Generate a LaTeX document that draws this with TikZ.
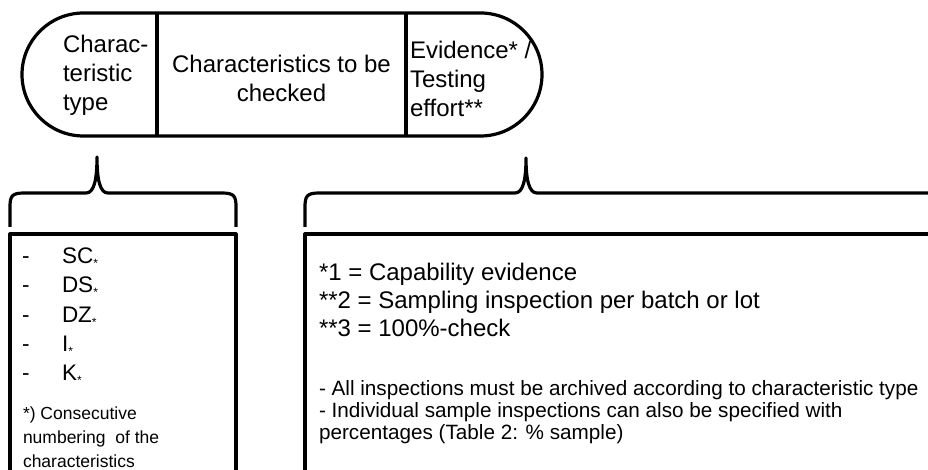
\documentclass[tikz,border=0pt]{standalone}
\usepackage{fontspec}
\setmainfont{Liberation Sans}
\begin{document}
\begin{tikzpicture}[x=1pt,y=-1pt,
  thick line/.style={line width=3.2pt, line join=round, line cap=butt},
  txt/.style={inner sep=0pt, outer sep=0pt, align=left},
  big/.style={font=\fontsize{24}{29}\selectfont},
  rowtxt/.style={inner sep=0pt, outer sep=0pt, anchor=base west, font=\fontsize{22.5}{29}\selectfont}]
\newcommand{\smallstar}{\raisebox{-4pt}{\fontsize{12}{12}\selectfont *}}
\useasboundingbox (0,0) rectangle (928,470);
\clip (0,0) rectangle (928,470);
% pill
\draw[thick line] (83.5,13) -- (480.5,13)
  arc[start angle=-90, end angle=90, radius=61.5] -- (83.5,136)
  arc[start angle=90, end angle=270, radius=61.5] -- cycle;
\draw[thick line] (157,13) -- (157,136);
\draw[thick line] (406,13) -- (406,136);
\node[txt, big, anchor=west] (ctype) at (63,75) {Charac-\\teristic\\type};
\node[txt, big, align=center] (cchk) at (281.5,78) {Characteristics to be\\checked};
\node[txt, big, anchor=west] (evid) at (410,79) {Evidence* /\\Testing\\effort**};
% left brace
\draw[thick line] (10,227) -- (10,207) .. controls (10,196) and (12,193) .. (24,193)
  -- (86,193) .. controls (94,193) and (97,180) .. (97,157)
  .. controls (97,180) and (100,193) .. (108,193) -- (222,193)
  .. controls (234,193) and (236,196) .. (236,207) -- (236,227);
% right brace
\draw[thick line] (305,227) -- (305,207) .. controls (305,196) and (307,193) .. (319,193)
  -- (515,193) .. controls (523,193) and (526,180) .. (526,158)
  .. controls (526,180) and (529,193) .. (537,193) -- (940,193);
% boxes
\draw[thick line] (10,480) -- (10,234) -- (236,234) -- (236,480);
\draw[thick line] (305,480) -- (305,234) -- (940,234);
% left box list
\node[rowtxt] (d1) at (22,263) {-};
\node[rowtxt] (t1) at (62,263) {SC\smallstar};
\node[rowtxt] (d2) at (22,292.5) {-};
\node[rowtxt] (t2) at (62,292.5) {DS\smallstar};
\node[rowtxt] (d3) at (22,322) {-};
\node[rowtxt] (t3) at (62,322) {DZ\smallstar};
\node[rowtxt] (d4) at (22,351) {-};
\node[rowtxt] (t4) at (62,351) {I\smallstar};
\node[rowtxt] (d5) at (22,380) {-};
\node[rowtxt] (t5) at (62,380) {K\smallstar};
\node[txt, anchor=west, font=\fontsize{17.5}{24}\selectfont] (foot) at (23,437)
  {*) Consecutive\\numbering\ \ of the\\characteristics};
% right box text
\node[txt, anchor=west, font=\fontsize{24}{28}\selectfont] (codes) at (319,300)
  {*1 = Capability evidence\\**2 = Sampling inspection per batch or lot\\**3 = 100\%-check};
\node[txt, anchor=west, font=\fontsize{20.7}{21.7}\selectfont] (notes) at (319,412)
  {- All inspections must be archived according to characteristic type\\
   - Individual sample inspections can also be specified with\\
   percentages (Table 2: \% sample)};
\end{tikzpicture}
\end{document}
